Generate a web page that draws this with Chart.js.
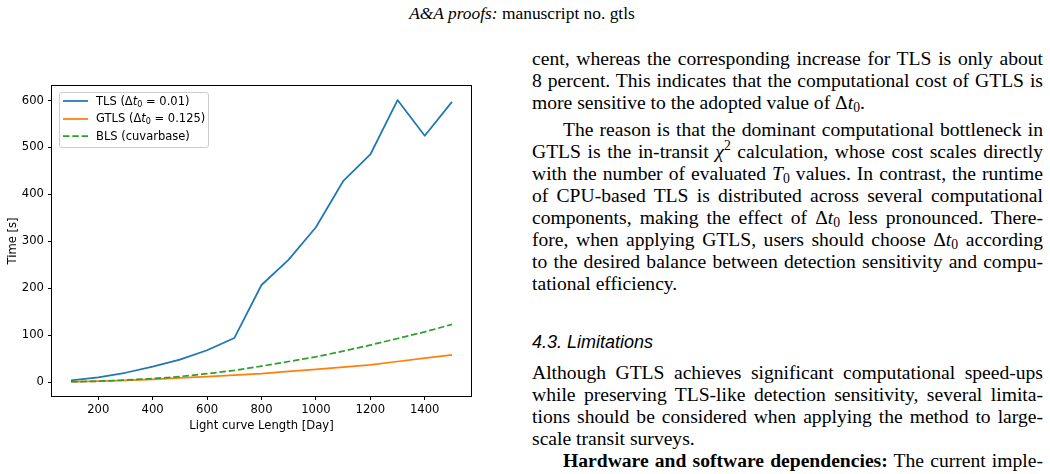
<!DOCTYPE html>
<html>
<head>
<meta charset="utf-8">
<script src="https://cdn.jsdelivr.net/npm/chart.js@4/dist/chart.umd.min.js"></script>
<style>
    html, body { margin: 0; padding: 0; background: #fff; }
    body { width: 1050px; height: 474px; position: relative; overflow: hidden; color: #000; }
    #header { position: absolute; left: 0; top: 3px; width: 1044px; text-align: center;
              font-family: 'Liberation Serif', serif; font-size: 17.4px; line-height: 20px; }
    #plot { position: absolute; left: 0; top: 75px; width: 490px; height: 365px; }
    #legend { position: absolute; box-sizing: border-box; border: 1px solid #cccccc; border-radius: 3px;
              background: rgba(255,255,255,0.8); padding: 0 3px 2px 3px;
              font-family: 'DejaVu Sans', sans-serif; font-size: 11.5px; }
    #legend .row { height: 17.3px; line-height: 17.3px; white-space: nowrap; }
    #legend svg { vertical-align: middle; margin-right: 8px; }
    .col { position: absolute; left: 532px; width: 511px; font-family: 'Liberation Serif', serif;
           font-size: 19.6px; line-height: 22.1px; }
    .col div { text-align: justify; text-align-last: justify; }
    .col div.last { text-align-last: left; }
    .col div.ind { text-indent: 31px; }
    .col div.para { margin-top: 4.5px; }
    #heading { position: absolute; left: 532px; top: 331px; font-family: 'Liberation Sans', sans-serif;
               font-style: italic; font-size: 18px; line-height: 22px; }
    sub, sup { font-size: 70%; line-height: 0; }
    sub { vertical-align: -0.25em; }
    sup { vertical-align: 0.55em; }
</style>
</head>
<body>
<div id="header"><i>A&amp;A proofs:</i> manuscript no. gtls</div>

<div id="plot"><canvas id="timingChart"></canvas></div>

<div class="col" style="top:48px;">
    <div>cent, whereas the corresponding increase for TLS is only about</div>
    <div>8 percent. This indicates that the computational cost of GTLS is</div>
    <div class="last">more sensitive to the adopted value of Δ<i>t</i><sub>0</sub>.</div>
    <div class="ind para">The reason is that the dominant computational bottleneck in</div>
    <div>GTLS is the in-transit <i>χ</i><sup>2</sup> calculation, whose cost scales directly</div>
    <div>with the number of evaluated <i>T</i><sub>0</sub> values. In contrast, the runtime</div>
    <div>of CPU-based TLS is distributed across several computational</div>
    <div>components, making the effect of Δ<i>t</i><sub>0</sub> less pronounced. There-</div>
    <div>fore, when applying GTLS, users should choose Δ<i>t</i><sub>0</sub> according</div>
    <div>to the desired balance between detection sensitivity and compu-</div>
    <div class="last">tational efficiency.</div>
</div>

<div id="heading">4.3. Limitations</div>

<div class="col" style="top:362px;">
    <div>Although GTLS achieves significant computational speed-ups</div>
    <div>while preserving TLS-like detection sensitivity, several limita-</div>
    <div>tions should be considered when applying the method to large-</div>
    <div class="last">scale transit surveys.</div>
    <div class="ind"><b>Hardware and software dependencies:</b> The current imple-</div>
</div>

<script>
// Light curve length [day]
const lengths = [100, 200, 300, 400, 500, 600, 700, 800, 900, 1000, 1100, 1200, 1300, 1400, 1500];

// Runtime [s]
const tlsTime  = [4, 10, 20, 33, 48, 68, 94, 207, 261, 330, 428, 485, 601, 525, 597];
const gtlsTime = [0.5, 2, 4, 6, 9, 12, 15, 18, 23, 27, 32, 37, 44, 51, 58];
const blsTime  = [1, 2, 4.5, 7.5, 12, 18, 25, 34, 44, 54, 66, 79, 93, 107, 123];

const seriesNames = ['TLS (Δt0 = 0.01)', 'GTLS (Δt0 = 0.125)', 'BLS (cuvarbase)'];
const legendLabels = [
    'TLS (Δ<i>t</i><sub>0</sub> = 0.01)',
    'GTLS (Δ<i>t</i><sub>0</sub> = 0.125)',
    'BLS (cuvarbase)'
];

const xTicks = [200, 400, 600, 800, 1000, 1200, 1400];
const yTicks = [0, 100, 200, 300, 400, 500, 600];

const xTitle = 'Light curve Length [Day]';
const yTitle = 'Time [s]';

const toPoints = ys => lengths.map((x, i) => ({ x: x, y: ys[i] }));

// matplotlib style box round the axes
const boxPlugin = {
    id: 'axesBox',
    afterDraw(chart) {
        const { ctx, chartArea: a } = chart;
        ctx.save();
        ctx.strokeStyle = '#000';
        ctx.lineWidth = 1;
        ctx.strokeRect(Math.round(a.left) - 0.5, Math.round(a.top) - 0.5,
                       Math.round(a.right - a.left) + 1, Math.round(a.bottom - a.top) + 1);
        ctx.restore();
    }
};

// legend inside the axes, upper left
const htmlLegend = {
    id: 'htmlLegend',
    afterRender(chart) {
        if (document.getElementById('legend')) return;
        const a = chart.chartArea;
        const box = document.createElement('div');
        box.id = 'legend';
        box.style.left = (a.left + 7) + 'px';
        box.style.top = (75 + a.top + 6) + 'px';
        chart.data.datasets.forEach((ds, i) => {
            const row = document.createElement('div');
            row.className = 'row';
            const dash = ds.borderDash ? ds.borderDash.join(' ') : 'none';
            row.innerHTML =
                `<svg width="25" height="4"><line x1="0" y1="2" x2="25" y2="2" stroke="${ds.borderColor}"` +
                ` stroke-width="${ds.borderWidth}" stroke-dasharray="${dash}"/></svg>` + legendLabels[i];
            box.appendChild(row);
        });
        document.body.appendChild(box);
    }
};

const tickFont = { family: 'DejaVu Sans', size: 11.6 };

new Chart(document.getElementById('timingChart'), {
    type: 'line',
    data: {
        datasets: [
            { label: seriesNames[0], data: toPoints(tlsTime), borderColor: '#1f77b4', borderWidth: 1.75, order: 2 },
            { label: seriesNames[1], data: toPoints(gtlsTime), borderColor: '#ff7f0e', borderWidth: 1.75, order: 1 },
            { label: seriesNames[2], data: toPoints(blsTime), borderColor: '#2ca02c', borderWidth: 1.75,
              borderDash: [6.5, 2.8], order: 0 }
        ]
    },
    options: {
        responsive: true,
        maintainAspectRatio: false,
        animation: false,
        devicePixelRatio: 1,
        layout: { padding: { top: 10, right: 19, left: 0, bottom: 0 } },
        elements: {
            point: { radius: 0 },
            line: { tension: 0, fill: false, borderCapStyle: 'butt', borderJoinStyle: 'round' }
        },
        scales: {
            x: {
                type: 'linear',
                min: 30,
                max: 1570,
                afterBuildTicks: s => { s.ticks = xTicks.map(v => ({ value: v })); },
                afterFit: s => { s.height = 44; },
                grid: { drawOnChartArea: false, tickLength: 4, tickColor: '#000', tickWidth: 1 },
                border: { display: false },
                ticks: { color: '#000', font: tickFont, padding: 3, maxRotation: 0, callback: v => String(v) },
                title: { display: true, text: xTitle, color: '#000', font: tickFont,
                         padding: { top: 0, bottom: 7 } }
            },
            y: {
                min: -29.5,
                max: 631,
                afterBuildTicks: s => { s.ticks = yTicks.map(v => ({ value: v })); },
                afterFit: s => { s.width = 52; },
                grid: { drawOnChartArea: false, tickLength: 4, tickColor: '#000', tickWidth: 1 },
                border: { display: false },
                ticks: { color: '#000', font: tickFont, padding: 4, callback: v => String(v) },
                title: { display: true, text: yTitle, color: '#000', font: tickFont,
                         padding: { top: 6, bottom: 0 } }
            }
        },
        plugins: {
            legend: { display: false },
            tooltip: { enabled: false }
        }
    },
    plugins: [boxPlugin, htmlLegend]
});
</script>
</body>
</html>
